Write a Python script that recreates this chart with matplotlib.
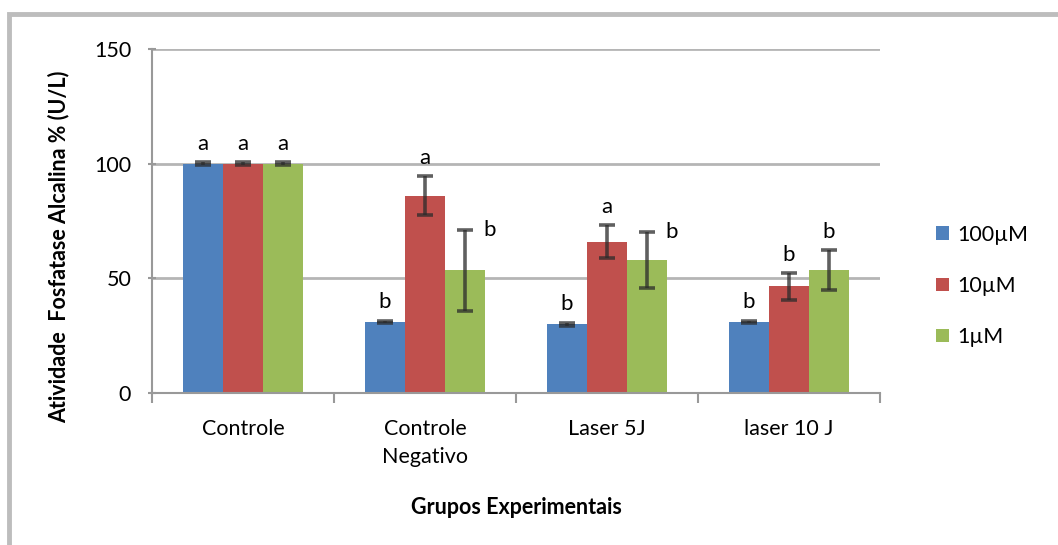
import matplotlib.pyplot as plt
import numpy as np
from matplotlib.patches import Rectangle

# Atividade de fosfatase alcalina por grupo e concentração
grupos = ['Controle', 'Controle\nNegativo', 'Laser 5J', 'laser 10 J']
series = ['100\u00b5M', '10\u00b5M', '1\u00b5M']
media_100 = [100, 31, 30, 31]
media_10 = [100, 86, 66, 46.5]
media_1 = [100, 53.5, 58, 53.5]
erro_100 = [0.6, 0.6, 0.6, 0.5]
erro_10 = [0.6, 8.6, 7.3, 5.8]
erro_1 = [0.6, 17.6, 12.4, 8.8]
letras_100 = ['a', 'b', 'b', 'b']
letras_10 = ['a', 'a', 'a', 'b']
letras_1 = ['a', 'b', 'b', 'b']
# letras ao lado da barra de erro (True) ou acima dela (False)
ao_lado_1 = [False, True, True, False]

cores = ['#4f81bd', '#c0504d', '#9bbb59']
fs = 15.5

plt.rcParams['font.family'] = ['Lato', 'DejaVu Sans']

fig = plt.figure(figsize=(10.58, 5.45), dpi=100)
ax = fig.add_axes([152 / 1058, 1 - 393 / 545, (880 - 152) / 1058, (393 - 49) / 545])

# moldura do gráfico
fig.patches.append(Rectangle((9 / 1058, -0.05), 1.1, 1.05 - 14 / 545,
                             transform=fig.transFigure, fill=False,
                             edgecolor='#bdbdbd', linewidth=3.5, zorder=0))

x = np.arange(len(grupos))
largura = 0.22
medias = [media_100, media_10, media_1]
erros = [erro_100, erro_10, erro_1]
letras = [letras_100, letras_10, letras_1]

for i in range(3):
    pos = x + (i - 1) * largura
    ax.bar(pos, medias[i], largura, color=cores[i], label=series[i], zorder=2)
    ax.errorbar(pos, medias[i], yerr=erros[i], fmt='none', ecolor='#2b2b2b',
                elinewidth=2.6, capsize=6, capthick=2.6, alpha=0.75, zorder=3)
    for j in range(len(grupos)):
        topo = medias[i][j] + erros[i][j]
        if i == 2 and ao_lado_1[j]:
            ax.annotate(letras[i][j], (pos[j], topo), xytext=(18, 0),
                        textcoords='offset points', ha='center', va='center',
                        fontsize=fs + 0.5)
        else:
            ax.annotate(letras[i][j], (pos[j], topo), xytext=(0, 6),
                        textcoords='offset points', ha='center', va='bottom',
                        fontsize=fs + 0.5)

ax.set_xlim(-0.5, len(grupos) - 0.5)
ax.set_ylim(0, 150)
ax.set_yticks([0, 50, 100, 150])
ax.yaxis.grid(True, color='#b5b5b5', linewidth=2, zorder=0)
ax.set_axisbelow(True)

ax.set_xticks(x)
ax.set_xticklabels(grupos, fontsize=fs, linespacing=1.45)
ax.set_xticks(np.arange(-0.5, len(grupos)), minor=True)
ax.tick_params(axis='x', which='major', length=0, pad=19)
ax.tick_params(axis='x', which='minor', length=7, width=1.5, color='#999999',
               direction='out')
ax.tick_params(axis='y', labelsize=fs, length=6, width=1.5, color='#999999',
               direction='inout', pad=12)

for lado in ['top', 'right']:
    ax.spines[lado].set_visible(False)
for lado in ['left', 'bottom']:
    ax.spines[lado].set_color('#999999')
    ax.spines[lado].set_linewidth(1.5)

ax.set_ylabel('Atividade  Fosfatase Alcalina % (U/L)', fontsize=fs,
              fontweight='bold')
ax.yaxis.set_label_coords(-0.113, 0.425)
ax.set_xlabel('Grupos Experimentais', fontsize=fs, fontweight='bold',
              labelpad=22)

ax.legend(loc='center left', bbox_to_anchor=(1.05, 0.311), frameon=False,
          fontsize=fs, handlelength=0.6, handleheight=0.6, handletextpad=0.4,
          labelspacing=1.45)

fig.savefig('out.png', dpi=100)
